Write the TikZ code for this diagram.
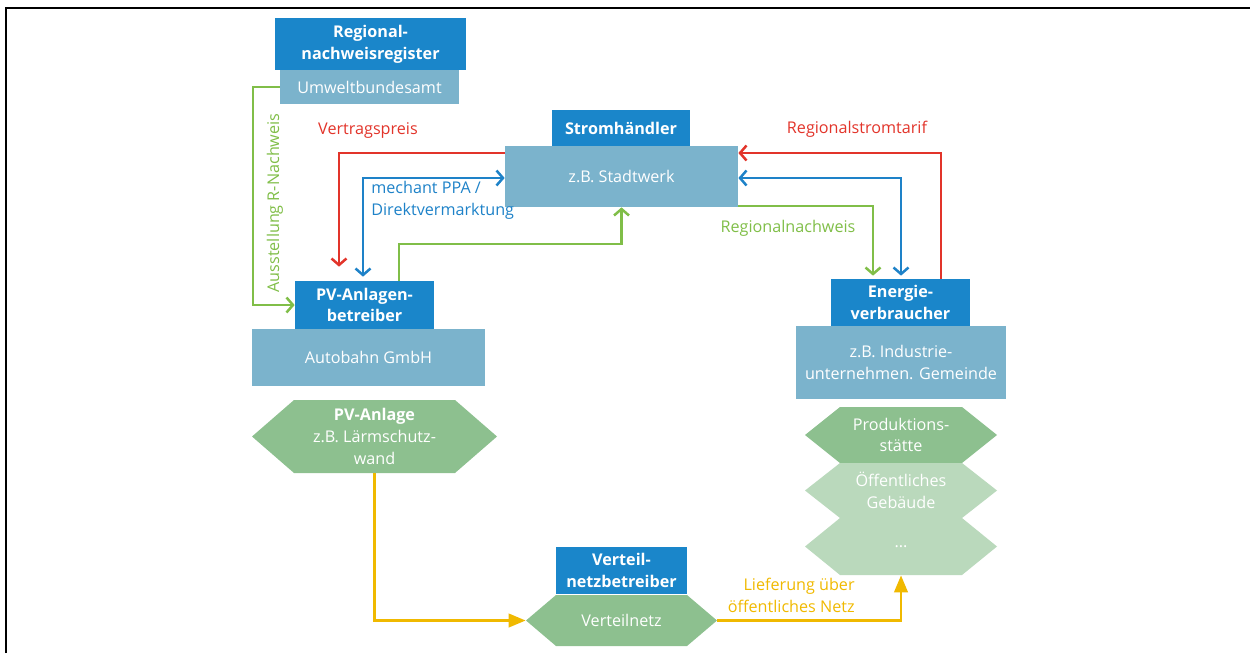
\documentclass[tikz,border=0pt]{standalone}
\usepackage{fontspec}
\setmainfont{Open Sans}
\usetikzlibrary{arrows.meta}

\definecolor{boxdark}{RGB}{26,134,202}
\definecolor{boxlight}{RGB}{123,179,204}
\definecolor{hexdark}{RGB}{141,192,143}
\definecolor{hexlight}{RGB}{186,217,188}
\definecolor{flowred}{RGB}{226,52,42}
\definecolor{flowblue}{RGB}{30,130,200}
\definecolor{flowgreen}{RGB}{128,190,72}
\definecolor{flowyellow}{RGB}{240,185,0}

% hexagon fill: colour, cx, cy, half width, half height, slant
\newcommand\hexfill[6]{%
  \fill[#1] ({#2-#4},#3) -- ({#2-#4+#6},{#3-#5}) -- ({#2+#4-#6},{#3-#5})
    -- ({#2+#4},#3) -- ({#2+#4-#6},{#3+#5}) -- ({#2-#4+#6},{#3+#5}) -- cycle;}

\begin{document}
\begin{tikzpicture}[x=0.02cm, y=-0.02cm,
  font=\fontsize{9.2}{12.4}\selectfont,
  sz/.style 2 args={minimum width=#1*0.02cm, minimum height=#2*0.02cm},
  role/.style={fill=boxdark, text=white, font=\fontsize{9.2}{12.4}\selectfont\bfseries,
    align=center, inner sep=0pt},
  actor/.style={fill=boxlight, text=white, align=center, inner sep=0pt},
  hextext/.style={text=white, align=center, inner sep=0pt},
  flow/.style={line width=0.05cm, arrows={-Straight Barb[length=0.13cm, width=0.3cm]}},
  flowboth/.style={line width=0.05cm, arrows={Straight Barb[length=0.13cm, width=0.3cm]-Straight Barb[length=0.13cm, width=0.3cm]}},
  power/.style={line width=0.05cm, flowyellow, arrows={-Triangle[length=0.34cm, width=0.27cm]}},
  lbl/.style={inner sep=0pt}]

\useasboundingbox (0,0) rectangle (1250,653);
\draw[line width=0.04cm] (6,653) -- (6,7.5) -- (1250,7.5);

% actors
\node[role, sz={191}{52}] (reg) at (370.5,44) {Regional-\\nachweisregister};
\node[actor, sz={179}{34}] (uba) at (369.5,87) {Umweltbundesamt};

\node[role, sz={138}{36}] (sh) at (621,128) {Stromhändler};
\node[actor, sz={233}{61}] (sw) at (621.5,176.5) {z.B. Stadtwerk};

\node[role, sz={139}{48}] (pvb) at (364.5,305) {PV-Anlagen-\\betreiber};
\node[actor, sz={233}{57}] (ab) at (368.5,357.5) {Autobahn GmbH};

\node[role, sz={139}{47}] (ev) at (900.5,302.5) {Energie-\\verbraucher};
\node[actor, sz={210}{73}] (ind) at (901,362.5) {z.B. Industrie-\\unternehmen. Gemeinde};

\node[role, sz={131}{47}] (vnb) at (621.5,570.5) {Verteil-\\netzbetreiber};

% hexagons
\hexfill{hexdark}{374.5}{436.5}{122.5}{36.5}{42}
\node[hextext, sz={245}{73}] (pva) at (374.5,436.5)
  {\textbf{PV-Anlage}\\z.B. Lärmschutz-\\wand};

\hexfill{hexdark}{621.5}{620.5}{95.5}{25.5}{30}
\node[hextext, sz={191}{51}] (vn) at (621.5,620.5) {Verteilnetz};

\hexfill{hexdark}{901}{435}{96}{28}{35}
\node[hextext, sz={192}{56}] (ps) at (901,435) {Produktions-\\stätte};
\hexfill{hexlight}{901}{490.5}{96}{27.5}{35}
\node[hextext, sz={192}{55}] (og) at (901,490.5) {Öffentliches\\Gebäude};
\hexfill{hexlight}{901}{546.5}{96}{28.5}{35}
\node[hextext, sz={192}{57}] (dots) at (901,546.5) {...};

% money and certificate flows
\draw[flow, flowred, shorten >=0.28cm] (sw.west |- 0,153) -| (pvb.north -| 339,0);
\draw[flowboth, flowblue, shorten <=0.08cm] (pvb.north -| 363,0) |- (sw.west |- 0,178);
\draw[flow, flowgreen] (pvb.north -| 399,0) -- (399,244) -| (sw.south);

\draw[flow, flowred] (ev.north -| 941,0) |- (sw.east |- 0,153);
\draw[flowboth, flowblue, shorten <=0.06cm] (ev.north -| 901,0) |- (sw.east |- 0,178);
\draw[flow, flowgreen, shorten >=0.06cm] (sw.east |- 0,206) -| (ev.north -| 873,0);

\draw[flow, flowgreen] (uba.west) -| (pvb.west -| 253,0) -- (pvb.west);

% physical delivery
\draw[power] (pva.south) |- (vn.west);
\draw[power] (vn.east) -| (dots.south);

% labels
\node[lbl, text=flowred] (l1) at (368,131) {Vertragspreis};
\node[lbl, text=flowblue, align=left, anchor=west] (l2) at (371,200.5) {mechant PPA /\\Direktvermarktung};
\node[lbl, text=flowred] (l3) at (857,129) {Regionalstromtarif};
\node[lbl, text=flowgreen] (l4) at (788,228) {Regionalnachweis};
\node[lbl, text=flowgreen, rotate=90] (l5) at (275,203) {Ausstellung R-Nachweis};
\node[lbl, text=flowyellow, align=right, anchor=east] (l6) at (855,595.5) {Lieferung über\\öffentliches Netz};
\end{tikzpicture}
\end{document}
